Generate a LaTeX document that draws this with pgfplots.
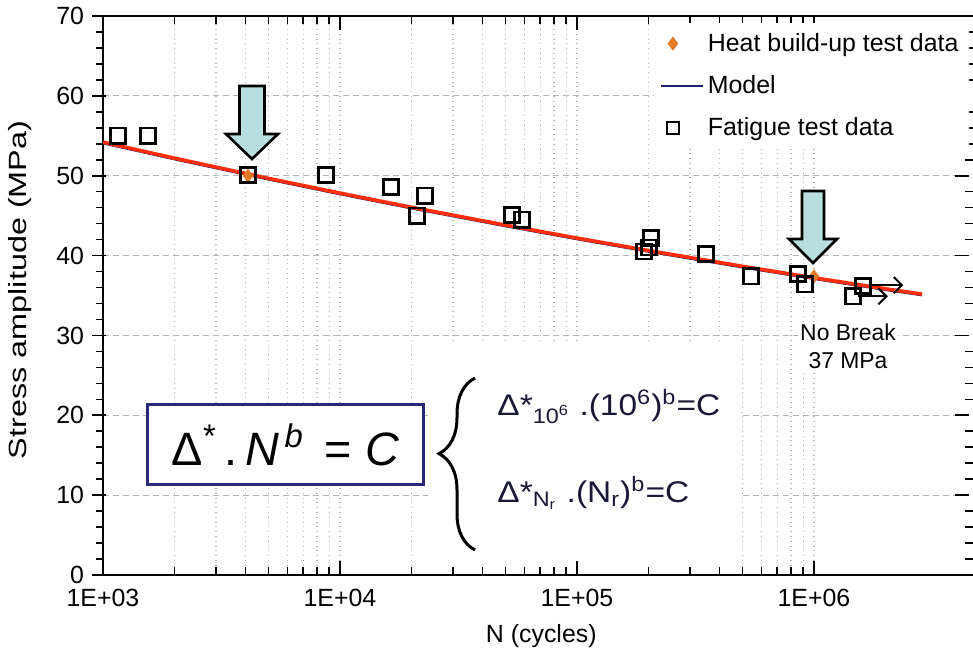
\documentclass[border=0pt]{standalone}
\usepackage{fontspec}
\setmainfont{Liberation Sans}
\usepackage{pgfplots}
\pgfplotsset{compat=1.18}
\usetikzlibrary{decorations.pathreplacing, arrows.meta}
\definecolor{heatorange}{RGB}{226,122,40}
\definecolor{modelnavy}{RGB}{30,30,115}
\definecolor{fitred}{RGB}{255,45,10}
\definecolor{arrowblue}{RGB}{184,222,224}
\definecolor{boxnavy}{RGB}{40,40,120}
\definecolor{eqcol}{RGB}{25,25,55}
\definecolor{gridgray}{RGB}{180,180,180}
\pgfplotsset{
  myline legend/.style={legend image code/.code={\draw[##1] (0bp,0bp) -- (21bp,0bp);}},
  mymark legend/.style={legend image code/.code={\draw[mark repeat=2, mark phase=2, ##1] plot coordinates {(0bp,0bp) (6bp,0bp) (21bp,0bp)};}},
}

\begin{document}
\begin{tikzpicture}
\begin{axis}[
  at={(0,0)}, anchor=south west,
  scale only axis, width=438.3bp, height=279.5bp,
  set layers,
  xmode=log, xmin=1e3, xmax=5e6, ymin=0, ymax=70,
  xtick={1e3,1e4,1e5,1e6}, xticklabels={1E+03,1E+04,1E+05,1E+06},
  ytick={0,10,...,70}, minor y tick num=4,
  tick align=inside,
  major tick length=7bp, minor tick length=4bp,
  major y tick style={xshift=-5.5bp},
  minor y tick style={xshift=-3.5bp},
  xmajorgrids, xminorgrids, ymajorgrids,
  major x grid style={gridgray, dotted, line width=0.6bp},
  minor x grid style={gridgray, dotted, line width=0.6bp},
  major y grid style={gridgray, dash pattern=on 3bp off 2bp, line width=0.6bp},
  axis line style={black, line width=1.1bp},
  tick style={black, line width=0.8bp},
  /pgf/number format/assume math mode=true,
  tick label style={font=\fontsize{12.5}{15}\selectfont},
  xticklabel style={anchor=north, yshift=-3.5bp},
  yticklabel style={xshift=-6bp},
  every axis x label/.style={at={(axis description cs:0.5,-0.109)}, anchor=center, font=\fontsize{12.5}{15}\selectfont},
  every axis y label/.style={at={(axis description cs:-0.0946,0.51)}, rotate=90, anchor=center, font=\fontsize{12.5}{15}\selectfont},
  xlabel={N (cycles)},
  ylabel={\scalebox{1.3}[1]{Stress amplitude (MPa)}},
  legend style={at={(axis description cs:0.628,0.988)}, anchor=north west, draw=none, fill=white,
    font=\fontsize{12.5}{15}\selectfont, row sep=6.5bp, inner sep=3bp},
  legend cell align=left,
  mymark legend,
]
\begin{pgfonlayer}{axis grid}
\fill[white] (rel axis cs:0.371,0.003) rectangle (rel axis cs:0.727,0.415);
\end{pgfonlayer}

\addplot[only marks, mark=diamond*, mark size=3.2bp, color=heatorange] coordinates {
(4093,50.0) (1000000,37.4)
};
\addlegendentry{Heat build-up test data}

\addplot[modelnavy, line width=1bp, myline legend] coordinates {
(1000,54.05) (2000,52.05) (5000,49.51) (10000,47.67) (20000,45.90) (50000,43.66)
(100000,42.04) (200000,40.48) (500000,38.50) (1000000,37.07) (2000000,35.69) (2860000,35.02)
};
\addlegendentry{Model}

\addplot[only marks, mark=square, mark size=3.8bp, mark options={line width=1.3bp}, color=black,
  legend image post style={mark size=3bp, mark options={line width=1bp}}] coordinates {
(1157,55.0) (1548,55.0) (4093,50.1) (8730,50.1) (16400,48.6) (21100,45.0) (22800,47.5)
(53200,45.1) (58600,44.5) (192000,40.5) (201000,41.0) (205000,42.2) (350000,40.2)
(542000,37.4) (855000,37.7) (916000,36.4) (1460000,34.9) (1610000,36.2)
};
\addlegendentry{Fatigue test data}

\addplot[fitred, line width=1.8bp, forget plot] coordinates {
(1000,54.20) (2000,52.20) (5000,49.66) (10000,47.82) (20000,46.05) (50000,43.81)
(100000,42.19) (200000,40.63) (500000,38.65) (1000000,37.22) (2000000,35.84) (2860000,35.17)
};

\draw[-{Straight Barb[length=4bp,width=8bp]}, line width=1bp] (axis cs:1700000,36.3) -- (axis cs:2380000,36.3);
\draw[-{Straight Barb[length=4bp,width=8bp]}, line width=1bp] (axis cs:1540000,34.9) -- (axis cs:2050000,34.9);
\end{axis}

\begin{scope}[x=1bp,y=1bp]
% blue arrows
\filldraw[fill=arrowblue, draw=black, line width=1.3bp, line join=miter]
  (68.25,244.5) -- (80.75,244.5) -- (80.75,220.5) -- (87.5,220.5) -- (74.5,208) -- (61.5,220.5) -- (68.25,220.5) -- cycle;
\filldraw[fill=arrowblue, draw=black, line width=1.3bp, line join=miter]
  (349.5,192) -- (360.5,192) -- (360.5,168) -- (367,168) -- (355,156) -- (343,168) -- (349.5,168) -- cycle;
% no break text
\node[align=center, fill=white, inner sep=1bp, font=\fontsize{11.5}{14}\selectfont] at (372.5,114.5) {No Break\\37 MPa};
% formula box
\node[draw=boxnavy, line width=1.5bp, fill=white, minimum width=137.5bp, minimum height=40bp, inner sep=0pt,
  font=\fontsize{23.5}{26}\selectfont] at (91.25,65.25)
  {Δ\textsuperscript{*}\,.\,\textit{N}\textsuperscript{\,\textit{b}}\, = \textit{C}};
% brace
\draw[decorate, decoration={brace, amplitude=18bp, aspect=0.56}, line width=1.5bp] (186,12.5) -- (186,98.5);
% equations
\node[anchor=base west, inner sep=0pt, font=\fontsize{15}{18}\selectfont, text=eqcol] at (197,80)
  {\scalebox{1.12}[1]{Δ*\textsubscript{10\textsuperscript{6}} .(10\textsuperscript{6})\textsuperscript{b}=C}};
\node[anchor=base west, inner sep=0pt, font=\fontsize{15}{18}\selectfont, text=eqcol] at (197,36.5)
  {\scalebox{1.12}[1]{Δ*\textsubscript{N\textsubscript{r}} .(N\textsubscript{r})\textsuperscript{b}=C}};
\end{scope}

\pgfresetboundingbox
\useasboundingbox (-51.5bp,-37bp) rectangle (435bp,287.5bp);
\end{tikzpicture}
\end{document}
